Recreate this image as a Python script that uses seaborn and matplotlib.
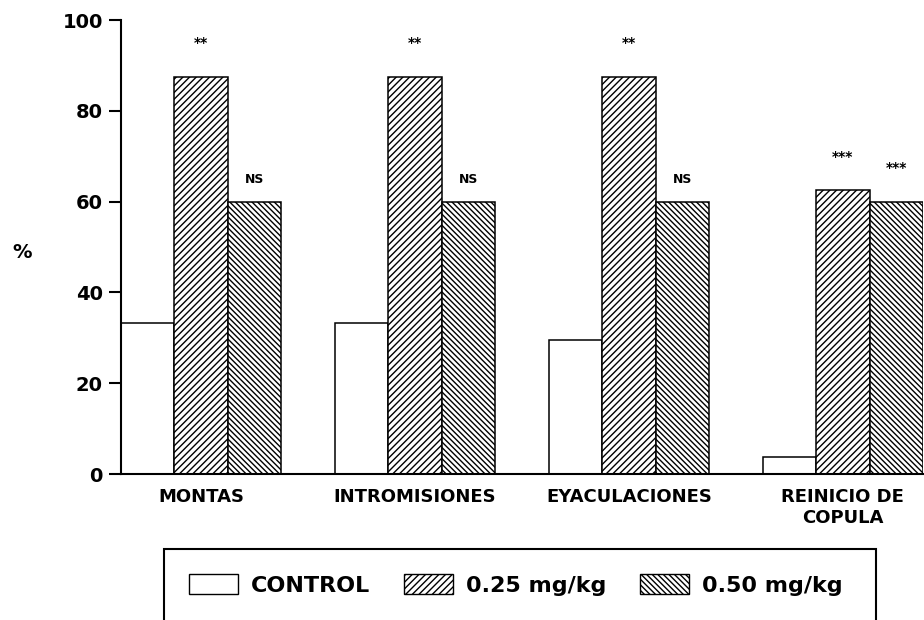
import matplotlib
matplotlib.use("Agg")
import pandas as pd
import seaborn as sns
import matplotlib.pyplot as plt
from matplotlib.patches import Patch, Rectangle

# Data
categories = ['MONTAS', 'INTROMISIONES', 'EYACULACIONES', 'REINICIO DE\nCOPULA']
groups = ['CONTROL', '0.25 mg/kg', '0.50 mg/kg']
control = [33.3, 33.3, 29.5, 3.7]
dose_025 = [87.5, 87.5, 87.5, 62.5]
dose_050 = [60.0, 60.0, 60.0, 60.0]
sig_025 = ['**', '**', '**', '***']
sig_050 = ['NS', 'NS', 'NS', '***']
y_ticks = [0, 20, 40, 60, 80, 100]

# long format for seaborn
df = pd.DataFrame({
    'medida': categories * 3,
    'grupo': [g for g in groups for _ in categories],
    'pct': control + dose_025 + dose_050,
})

sns.set_style('ticks', {'axes.edgecolor': 'black', 'text.color': 'black',
                        'xtick.color': 'black', 'ytick.color': 'black',
                        'axes.labelcolor': 'black'})
plt.rcParams['font.family'] = ['DejaVu Sans']
plt.rcParams['font.weight'] = 'bold'
plt.rcParams['hatch.linewidth'] = 1.0

fig = plt.figure(figsize=(9.24, 6.2), dpi=100)
ax = fig.add_axes([121 / 924, 1 - 474 / 620, (923 - 121) / 924, (474 - 20) / 620])

sns.barplot(data=df, x='medida', y='pct', hue='grupo', hue_order=groups,
            palette=['white'] * 3, saturation=1, edgecolor='black', linewidth=1.1,
            width=0.75, legend=False, ax=ax)

hatches = ['', '/////', '\\\\\\\\\\\\']
for cont, h in zip(ax.containers, hatches):
    for bar in cont:
        bar.set_hatch(h)

# significance marks above the treated bars
for cont, marks in zip(ax.containers[1:], [sig_025, sig_050]):
    for bar, m in zip(cont, marks):
        cx = bar.get_x() + bar.get_width() / 2
        off = 4.1 if m == 'NS' else 6.5
        fs = 9 if m == 'NS' else 10
        ax.text(cx, bar.get_height() + off, m, ha='center', va='baseline',
                fontsize=fs, fontweight='bold', color='black')

ax.set_xlim(-0.375, 3.375)
ax.set_ylim(0, 100)
ax.set_yticks(y_ticks)
ax.set_xlabel('')
ax.set_ylabel('')
sns.despine(ax=ax)
for s in ['left', 'bottom']:
    ax.spines[s].set_linewidth(1.5)
ax.tick_params(axis='y', length=9, width=1.5, labelsize=14, pad=4, colors='black')
ax.tick_params(axis='x', length=0, labelsize=13, pad=10, colors='black')

fig.text(22 / 924, 1 - 253 / 620, '%', fontsize=14, fontweight='bold',
         ha='center', va='center', color='black')

# legend inside a square box at the bottom
fig.add_artist(Rectangle((164 / 924, -0.05), (876 - 164) / 924, 0.05 + 1 - 549 / 620,
                         transform=fig.transFigure, fill=False, edgecolor='black',
                         linewidth=1.5))
handles = [Patch(facecolor='white', edgecolor='black', hatch=h, linewidth=1) for h in hatches]
leg = fig.legend(handles, groups, loc='center left', bbox_to_anchor=(189 / 924, 1 - 585 / 620),
                 ncol=3, frameon=False, prop={'weight': 'bold', 'size': 16},
                 handlelength=2.2, handleheight=1.0, handletextpad=0.6,
                 columnspacing=1.5, borderpad=0, borderaxespad=0)
for t in leg.get_texts():
    t.set_color('black')

fig.savefig('out.png', dpi=100)
